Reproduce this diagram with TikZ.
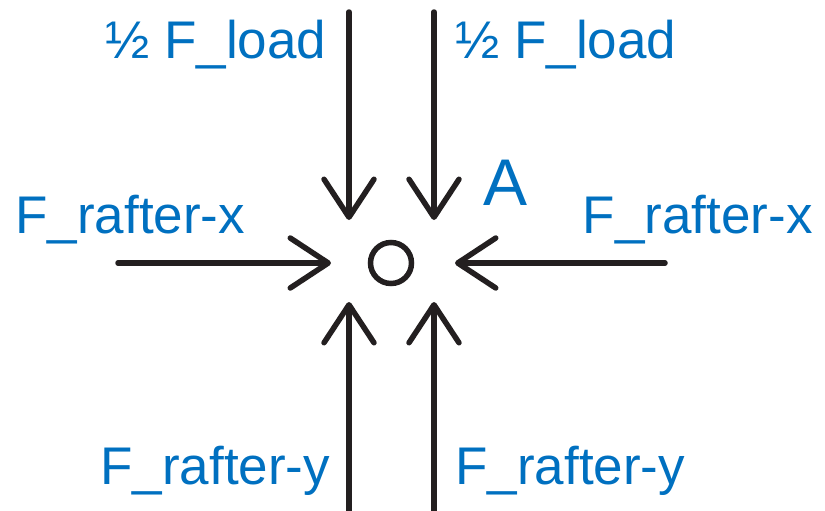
\documentclass[tikz,border=0pt]{standalone}
\usepackage{fontspec}
\setmainfont{Liberation Sans}
\usetikzlibrary{arrows.meta}
\definecolor{forceblue}{RGB}{0,112,192}
\definecolor{lineblack}{RGB}{35,31,32}

\begin{document}
\begin{tikzpicture}[x=0.5pt, y=-0.5pt, every node/.style={font=\fontsize{26.5}{30}\selectfont, text=forceblue, inner sep=0pt}, >={Straight Barb[length=19pt, width=25pt, round]}, force/.style={->, lineblack, line width=2.75pt, line cap=round}]
	\useasboundingbox (0,0) rectangle (825,510);
	\node[draw=lineblack, circle, line width=2.75pt, minimum size=20.5pt] (joint) at (391,263) {};
	\coordinate (loadLtop) at (349,12);
	\coordinate (loadLtip) at (349,220);
	\coordinate (loadRtop) at (434,12);
	\coordinate (loadRtip) at (434,220);
	\coordinate (rafterxLend) at (118,263);
	\coordinate (rafterxLtip) at (331,263);
	\coordinate (rafterxRend) at (665,263);
	\coordinate (rafterxRtip) at (455,263);
	\coordinate (rafteryLend) at (349,512);
	\coordinate (rafteryLtip) at (349,302);
	\coordinate (rafteryRend) at (434,512);
	\coordinate (rafteryRtip) at (434,302);
	\draw[force] (loadLtop) -- (loadLtip);
	\draw[force] (loadRtop) -- (loadRtip);
	\draw[force] (rafterxLend) -- (rafterxLtip);
	\draw[force] (rafterxRend) -- (rafterxRtip);
	\draw[force] (rafteryLend) -- (rafteryLtip);
	\draw[force] (rafteryRend) -- (rafteryRtip);
	\node[anchor=base west] (loadLlabel) at (105,58) {½ F\_load};
	\node[anchor=base west] (loadRlabel) at (455,58) {½ F\_load};
	\node[anchor=base west] (rafterxLlabel) at (15,233) {F\_rafter-x};
	\node[anchor=base east] (rafterxRlabel) at (813,233) {F\_rafter-x};
	\node[anchor=base west, font=\fontsize{33}{38}\selectfont] (jointlabel) at (483,205) {A};
	\node[anchor=base west] (rafteryLlabel) at (100,484) {F\_rafter-y};
	\node[anchor=base west] (rafteryRlabel) at (455,484) {F\_rafter-y};
\end{tikzpicture}
\end{document}
